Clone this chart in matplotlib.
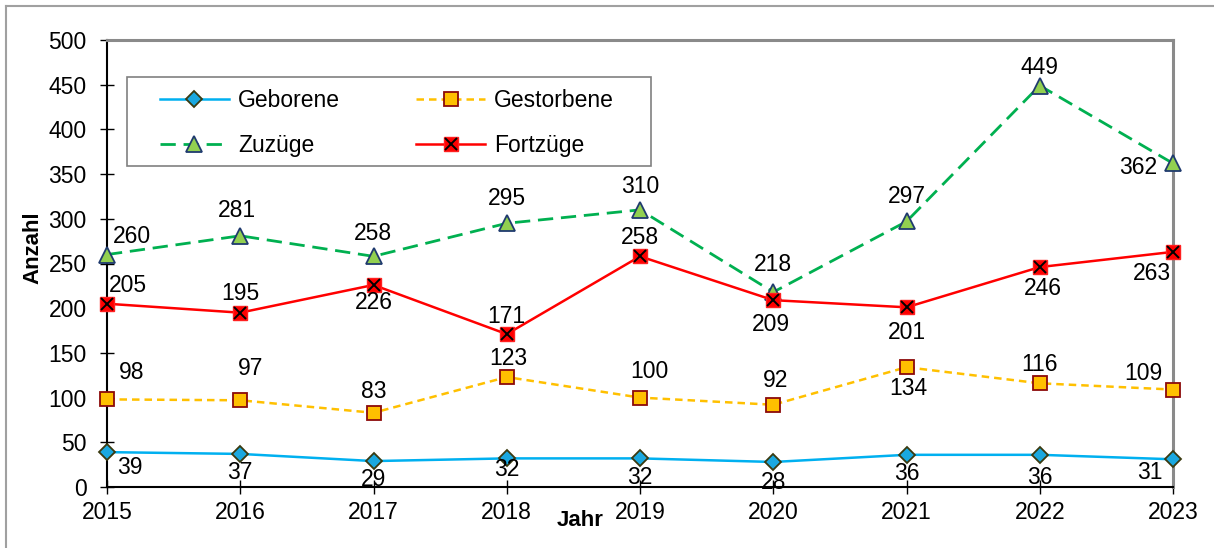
import numpy as np
import matplotlib.pyplot as plt
from matplotlib.lines import Line2D
from matplotlib.patches import Rectangle

plt.rcParams['font.family'] = ['Liberation Sans', 'DejaVu Sans']

# data
jahre = [2015, 2016, 2017, 2018, 2019, 2020, 2021, 2022, 2023]
geborene = [39, 37, 29, 32, 32, 28, 36, 36, 31]
gestorbene = [98, 97, 83, 123, 100, 92, 134, 116, 109]
zuzuege = [260, 281, 258, 295, 310, 218, 297, 449, 362]
fortzuege = [205, 195, 226, 171, 258, 209, 201, 246, 263]

# label offsets in pixels (dx, dy up)
off_geb = [(23, -15), (0, -19), (0, -18), (0, -11), (0, -19), (0, -21), (0, -19), (0, -23), (-23, -13)]
off_ges = [(25, 27), (10, 32), (0, 21), (2, 19), (9, 26), (2, 24), (2, -21), (0, 19), (-30, 16)]
off_zuz = [(25, 18), (-3, 25), (-1, 23), (0, 25), (0, 23), (0, 28), (0, 25), (0, 18), (-35, -4)]
off_fort = [(21, 18), (0, 19), (0, -18), (0, 18), (0, 19), (-2, -24), (0, -25), (3, -21), (-21, -22)]

fs = 16.5
fig = plt.figure(figsize=(12.14, 5.48), dpi=100)
ax = fig.add_axes([107/1214, 1-487/548, 1066/1214, 447/548])

l1, = ax.plot(jahre, geborene, color='#00B0F0', lw=1.8, marker='D', ms=8.5,
              mfc='#1AA8E0', mec='#3A3A10', mew=1.3, zorder=3, clip_on=False)
l2, = ax.plot(jahre, gestorbene, color='#FFC000', lw=1.8, ls=(0, (3, 2)), marker='s', ms=10,
              mfc='#FFC000', mec='#8B0A0A', mew=1.3, zorder=3, clip_on=False)
l3, = ax.plot(jahre, zuzuege, color='#00B050', lw=2.0, ls=(0, (5.5, 2.8)), marker='^', ms=11,
              mfc='#92D050', mec='#1F3A6E', mew=1.3, zorder=3, clip_on=False)
l4, = ax.plot(jahre, fortzuege, color='#FF0000', lw=1.8, marker='s', ms=10.5,
              mfc='#FF0000', mec='#FF2020', mew=1.0, zorder=3, clip_on=False)
l4x, = ax.plot(jahre, fortzuege, ls='none', marker='x', ms=9, color='black', mew=1.4,
               zorder=4, clip_on=False)

for vals, offs in [(geborene, off_geb), (gestorbene, off_ges), (zuzuege, off_zuz), (fortzuege, off_fort)]:
    for x, v, (dx, dy) in zip(jahre, vals, offs):
        ax.annotate(str(v), (x, v), xytext=(dx, dy), textcoords='offset pixels',
                    ha='center', va='center', fontsize=fs, zorder=5)

ax.set_xlim(2015, 2023)
ax.set_ylim(0, 500)
ax.set_xticks(jahre)
ax.set_yticks(np.arange(0, 501, 50))
ax.tick_params(axis='both', direction='inout', length=9.5, width=1, labelsize=fs)
ax.tick_params(axis='y', pad=10)
ax.tick_params(axis='x', pad=5.5)

for s in ['left', 'bottom']:
    ax.spines[s].set_color('black')
    ax.spines[s].set_linewidth(1.5)
for s in ['top', 'right']:
    ax.spines[s].set_color('#8a8a8a')
    ax.spines[s].set_linewidth(2.2)

fig.text(33/1214, 1-248/548, 'Anzahl', rotation=90, fontsize=16, fontweight='bold',
         ha='center', va='center')
fig.text(580/1214, 1-521/548, 'Jahr', fontsize=16, fontweight='bold', ha='center', va='center')

# legend box drawn separately
ax.add_patch(Rectangle((20/1066, 1-126/447), 524/1066, 89/447, transform=ax.transAxes,
                       facecolor='white', edgecolor='#808080', lw=1.2, zorder=6))
leg = ax.legend([l1, l3, l2, (l4, l4x)], ['Geborene', 'Zuzüge', 'Gestorbene', 'Fortzüge'],
                ncol=2, loc='upper left', bbox_to_anchor=(53/1066, 1-49/447),
                borderaxespad=0, borderpad=0, fontsize=fs, handlelength=3.0,
                handletextpad=0.4, labelspacing=0.97, columnspacing=3.33, frameon=False)
leg.set_zorder(7)

# outer frame
fig.add_artist(Line2D([6/1214, 1], [1-6/548, 1-6/548], color='#a0a0a0', lw=1.5))
fig.add_artist(Line2D([6/1214, 6/1214], [0, 1-6/548], color='#a0a0a0', lw=1.5))

fig.savefig('out.png', dpi=100)
